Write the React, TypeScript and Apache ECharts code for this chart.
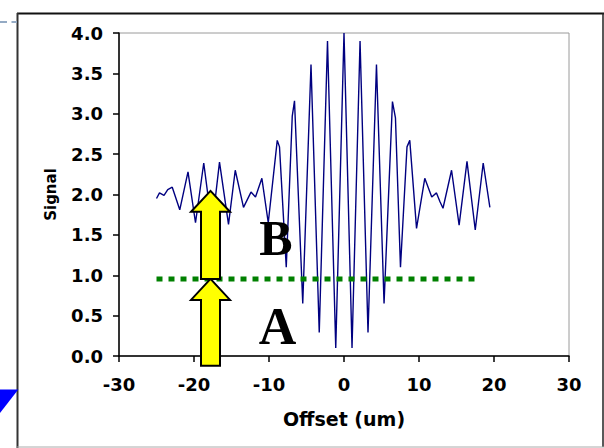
import React, { useEffect, useRef } from "react";
import * as echarts from "echarts";

// Interferometer scan: signal level against lateral offset
const OFFSET_UM = [
  -25.0, -24.6, -24.0, -23.5, -22.9, -21.9, -20.8, -19.8, -18.7, -17.6,
  -16.6, -15.4, -14.5, -13.4, -12.4, -11.8, -10.95, -10.1, -8.9, -8.6,
  -7.7, -6.9, -6.6, -5.5, -4.4, -3.3, -2.2, -1.1, 0.0, 1.07,
  2.14, 3.2, 4.33, 5.34, 6.46, 6.86, 7.53, 8.4, 8.77, 9.67,
  10.77, 11.7, 12.33, 12.8, 13.2, 14.34, 15.35, 16.4, 17.5, 18.56, 19.45,
];
const SIGNAL = [
  1.95, 2.02, 1.99, 2.06, 2.09, 1.81, 2.28, 1.65, 2.39, 1.6,
  2.4, 1.63, 2.3, 1.84, 2.03, 1.97, 2.2, 1.65, 2.67, 2.59,
  1.1, 2.97, 3.16, 0.65, 3.61, 0.29, 3.9, 0.1, 4.0, 0.1,
  3.9, 0.29, 3.61, 0.65, 3.15, 2.95, 1.1, 2.59, 2.67, 1.58,
  2.2, 1.97, 2.02, 1.91, 1.83, 2.3, 1.62, 2.41, 1.56, 2.39, 1.84,
];

// Reference level (green dotted line)
const LEVEL_X = [-25, 18.1];
const LEVEL_Y = 0.955;

// Arrows: x position, tail value, tip value
const ARROW_X = [-17.8, -17.8];
const ARROW_FROM = [-0.12, 0.955];
const ARROW_TO = [0.955, 2.045];

const X_MIN = -30;
const X_MAX = 30;
const X_STEP = 10;
const Y_MIN = 0;
const Y_MAX = 4;
const Y_STEP = 0.5;

const AXIS_FONT = "'DejaVu Sans', Verdana, sans-serif";
const LETTER_FONT = "'Liberation Serif', 'Times New Roman', serif";

export default function App() {
  const ref = useRef<HTMLDivElement>(null);

  useEffect(() => {
    if (!ref.current) return;
    const chart = echarts.init(ref.current, undefined, { renderer: "svg" });

    const signalData = OFFSET_UM.map((x, i) => [x, SIGNAL[i]]);
    const levelData = LEVEL_X.map((x) => [x, LEVEL_Y]);
    const arrowData = ARROW_X.map((x, i) => [x, ARROW_FROM[i], ARROW_TO[i]]);

    chart.setOption({
      animation: false,
      backgroundColor: "#ffffff",
      grid: {
        left: 119,
        right: 35,
        top: 33,
        bottom: 92,
        show: true,
        borderColor: "#9a9a9a",
        borderWidth: 1,
      },
      xAxis: {
        type: "value",
        min: X_MIN,
        max: X_MAX,
        interval: X_STEP,
        name: "Offset (um)",
        nameLocation: "middle",
        nameGap: 53,
        nameTextStyle: {
          color: "#000",
          fontFamily: AXIS_FONT,
          fontWeight: "bold",
          fontSize: 19,
        },
        axisLine: { show: true, onZero: false, lineStyle: { color: "#000", width: 1.5 } },
        axisTick: { show: true, inside: false, length: 6, lineStyle: { color: "#000", width: 1.5 } },
        axisLabel: {
          color: "#000",
          fontFamily: AXIS_FONT,
          fontWeight: "bold",
          fontSize: 18,
          margin: 19,
        },
        splitLine: { show: false },
      },
      yAxis: {
        type: "value",
        min: Y_MIN,
        max: Y_MAX,
        interval: Y_STEP,
        name: "Signal",
        nameLocation: "middle",
        nameGap: 61,
        nameTextStyle: {
          color: "#000",
          fontFamily: AXIS_FONT,
          fontWeight: "bold",
          fontSize: 15,
          padding: [0, 0, 0, 0],
        },
        axisLine: { show: true, onZero: false, lineStyle: { color: "#000", width: 1.5 } },
        axisTick: { show: true, inside: false, length: 6, lineStyle: { color: "#000", width: 1.5 } },
        axisLabel: {
          color: "#000",
          fontFamily: AXIS_FONT,
          fontWeight: "bold",
          fontSize: 18,
          margin: 16,
          formatter: (v: number) => v.toFixed(1),
        },
        splitLine: { show: false },
      },
      series: [
        {
          type: "line",
          data: signalData,
          showSymbol: false,
          symbol: "none",
          lineStyle: { color: "#000080", width: 1.4 },
          z: 2,
        },
        {
          type: "line",
          data: levelData,
          showSymbol: false,
          symbol: "none",
          lineStyle: { color: "#008000", width: 5, type: [6, 6], cap: "butt" },
          z: 3,
        },
        {
          type: "custom",
          clip: false,
          z: 4,
          encode: { x: 0, y: [1, 2] },
          data: arrowData,
          renderItem: (_params: any, api: any) => {
            const x = api.value(0);
            const tail = api.coord([x, api.value(1)]);
            const tip = api.coord([x, api.value(2)]);
            const cx = tip[0];
            const shaft = 9.5;
            const head = 19.5;
            const headH = 21;
            const ty = tip[1];
            const by = tail[1];
            return {
              type: "polygon",
              shape: {
                points: [
                  [cx, ty],
                  [cx + head, ty + headH],
                  [cx + shaft, ty + headH],
                  [cx + shaft, by],
                  [cx - shaft, by],
                  [cx - shaft, ty + headH],
                  [cx - head, ty + headH],
                ],
              },
              style: { fill: "#ffff00", stroke: "#000", lineWidth: 2, lineJoin: "miter" },
            };
          },
        },
      ],
      graphic: [
        // outer frame
        { type: "line", shape: { x1: 17, y1: 13.5, x2: 604, y2: 13.5 }, style: { stroke: "#111", lineWidth: 2 }, silent: true },
        { type: "line", shape: { x1: 17.5, y1: 13, x2: 17.5, y2: 448 }, style: { stroke: "#333", lineWidth: 2 }, silent: true },
        { type: "line", shape: { x1: 603, y1: 13, x2: 603, y2: 447 }, style: { stroke: "#222", lineWidth: 1.5 }, silent: true },
        { type: "line", shape: { x1: 17, y1: 447, x2: 604, y2: 447 }, style: { stroke: "#aaaaaa", lineWidth: 1 }, silent: true },
        // connector stub and pointer outside the frame
        { type: "line", shape: { x1: 0, y1: 22, x2: 17, y2: 22 }, style: { stroke: "#94aac4", lineWidth: 2, lineDash: [7, 4.5] }, silent: true },
        { type: "polygon", shape: { points: [[0, 389.5], [18.3, 389.5], [0, 413]] }, style: { fill: "#0000ff" }, silent: true },
        // region letters
        {
          type: "text",
          x: 276,
          y: 238,
          z: 10,
          style: {
            text: "B",
            fill: "#000",
            font: `bold 50px ${LETTER_FONT}`,
            align: "center",
            verticalAlign: "middle",
          },
        },
        {
          type: "text",
          x: 277.6,
          y: 326,
          z: 10,
          style: {
            text: "A",
            fill: "#000",
            font: `bold 52px ${LETTER_FONT}`,
            align: "center",
            verticalAlign: "middle",
          },
        },
      ],
    });

    return () => chart.dispose();
  }, []);

  return (
    <div
      ref={ref}
      style={{ position: "fixed", left: 0, top: 0, width: 604, height: 448 }}
    />
  );
}
